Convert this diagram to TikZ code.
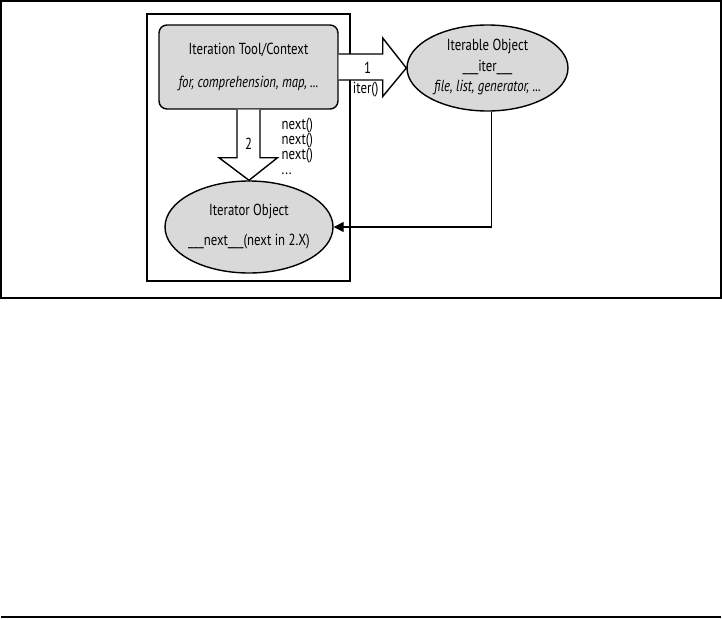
\documentclass[tikz,border=0pt]{standalone}
\usepackage{fontspec}
\setmainfont{PT Sans}[FakeStretch=0.8]
\usetikzlibrary{arrows.meta,positioning,calc,shapes.geometric}
\definecolor{boxgray}{HTML}{D9D9D9}

\begin{document}
\begin{tikzpicture}[
    x=1pt,y=-1pt,
    ctxbox/.style = {rectangle,rounded corners=8pt,draw=black,fill=boxgray,line width=1.4pt,
                     minimum width=179pt,minimum height=84pt},
    obj/.style    = {ellipse,draw=black,fill=boxgray,line width=1.4pt,inner sep=0pt},
    txt/.style    = {align=center,inner sep=0pt,font=\fontsize{16}{19}\selectfont},
    lbl/.style    = {font=\fontsize{16}{15}\selectfont,inner sep=1pt},
    blk/.style    = {draw=black,fill=white,line width=1.4pt,line join=miter},
    fb/.style     = {-{Triangle[length=10pt,width=10pt]},line width=1.4pt},
    frm/.style    = {draw=black,line width=1.6pt},
  ]
  \useasboundingbox (0,0) rectangle (722,618);

  % Rahmen
  \draw[frm] (1,1) rectangle (721,298);
  \draw[frm] (1,617) -- (721,617);
  \draw[frm] (147,14) rectangle (350,281);

  % Knoten
  \node[ctxbox] (ctx) at (248.5,67) {};
  \node[txt] (ctxtxt) at (ctx.center) {Iteration Tool/Context\\[14pt] \itshape for, comprehension, map, ...};
  \node[obj,minimum width=161pt,minimum height=86pt] (able) at (487.5,68) {};
  \node[txt,font=\fontsize{16}{21}\selectfont] (abletxt) at ($(able.center)+(0,-1)$)
       {Iterable Object\\ \_\_\_iter\_\_\_\\[-1pt] \itshape file, list, generator, ...};
  \node[obj,minimum width=168pt,minimum height=92pt] (iter) at (249,227) {};
  \node[txt] (itertxt) at (iter.center) {Iterator Object\\[11pt] \_\_\_next\_\_\_(next in 2.X)};

  % Pfeil 1: iter()
  \draw[blk] ($(ctx.east)+(0,-13)$) -- ++(44,0) -- ++(0,-16) -- (able.west)
             -- ($(ctx.east)+(44,29.5)$) -- ++(0,-16.5) -- ($(ctx.east)+(0,13)$);
  \node[lbl] (one) at ($(ctx.east)+(29,1)$) {1};
  \node[lbl] (itc) at ($(ctx.east)+(27,23)$) {iter()};

  % Pfeil 2: next()
  \draw[blk] ($(ctx.south)+(-11.5,0)$) -- ++(0,48) -- ++(-18,0) -- (iter.north)
             -- ($(ctx.south)+(29,48)$) -- ++(-17.5,0) -- ($(ctx.south)+(11.5,0)$);
  \node[lbl] (two) at ($(ctx.south)+(0,34)$) {2};
  \node[lbl,anchor=west,align=left] (nxt) at ($(ctx.south)+(32,37)$)
       {next()\\ next()\\ next()\\ ...};

  % Rueckfuehrung
  \draw[fb] (able.-85) |- (iter.east);

\end{tikzpicture}
\end{document}
